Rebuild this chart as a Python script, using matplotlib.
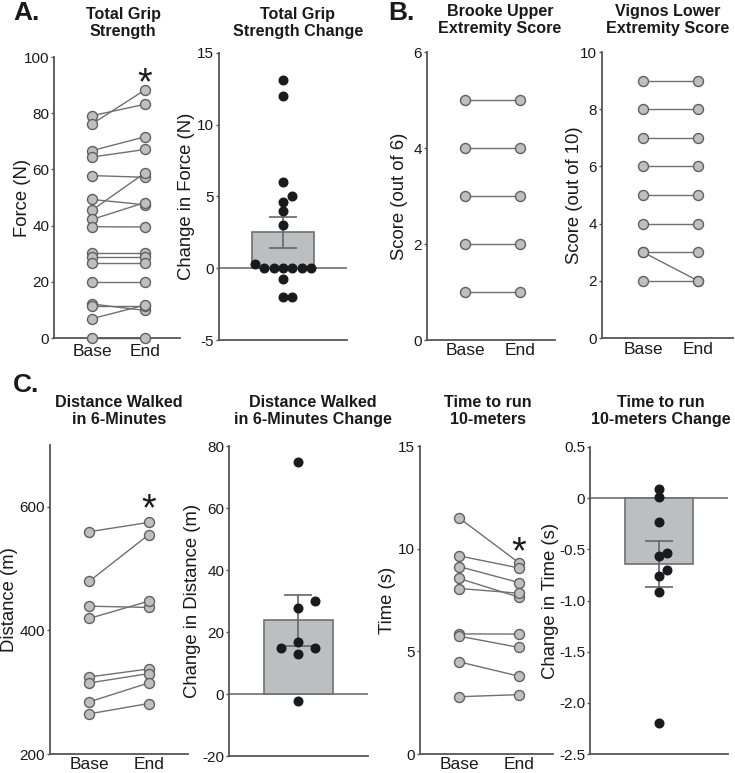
import numpy as np
import matplotlib
matplotlib.use("Agg")
import matplotlib.pyplot as plt

plt.rcParams['font.family'] = ['Liberation Sans', 'DejaVu Sans']

# ---------------- data ----------------
grip_base = [79.1, 76.2, 66.7, 64.4, 57.8, 49.3, 45.5, 42.2, 39.6, 30.2, 28.9, 26.8, 19.9, 12.1, 11.3, 6.9, 0.0]
grip_end = [83.2, 88.3, 71.6, 67.1, 57.2, 47.4, 58.8, 48.2, 39.5, 30.2, 28.9, 26.8, 19.9, 9.8, 11.3, 11.7, 0.0]
grip_change = [13.1, 12.0, 6.0, 5.0, 4.6, 4.0, 3.0, 0.3, 0, 0, 0, 0, 0, 0, -0.75, -2.0, -2.0]
grip_change_mean = 2.5
grip_change_sem = 1.09

brooke_base = [5, 4, 3, 2, 1]
brooke_end = [5, 4, 3, 2, 1]

vignos_base = [9, 8, 7, 6, 5, 4, 3, 3, 2]
vignos_end = [9, 8, 7, 6, 5, 4, 3, 2, 2]

dist_base = [559.7, 479.6, 439.2, 419.4, 324.7, 315.0, 284.4, 265.0]
dist_end = [574.7, 554.8, 437.1, 447.3, 337.6, 330.1, 315.0, 281.7]
dist_change = [75.0, 30.0, 27.8, 16.9, 14.9, 14.9, 12.9, -2.15]
dist_change_mean = 23.8
dist_change_sem = 8.2

time_base = [11.5, 9.65, 9.13, 8.55, 8.06, 5.85, 5.74, 4.49, 2.79]
time_end = [9.31, 9.06, 8.35, 7.64, 7.83, 5.84, 5.19, 3.79, 2.89]
time_change = [0.09, 0.01, -0.23, -0.54, -0.57, -0.70, -0.76, -0.92, -2.2]
time_change_mean = -0.64
time_change_sem = 0.225

pair_labels = ["Base", "End"]

# ---------------- style ----------------
W, H = 735, 773
fig = plt.figure(figsize=(W / 100, H / 100), dpi=100)

AX_COL = '#555555'
TXT_COL = '#1a1a1a'
LINE_COL = '#707070'
MFACE = '#bfbfbf'
MEDGE = '#606060'
BAR_FACE = '#bdbec2'
BAR_EDGE = '#707070'


def make_ax(L, R, T, B, xpad=4):
    ax = fig.add_axes([L / W, (H - B) / H, (R - L) / W, (B - T) / H])
    ax._px = (L, R)
    for s in ['top', 'right']:
        ax.spines[s].set_visible(False)
    for s in ['left', 'bottom']:
        ax.spines[s].set_color(AX_COL)
        ax.spines[s].set_linewidth(1.3)
    ax.tick_params(axis='y', colors=AX_COL, labelcolor=TXT_COL, labelsize=11,
                   length=2.5, width=1.0, pad=1.0)
    ax.tick_params(axis='x', length=0, labelcolor=TXT_COL, labelsize=12.5, pad=xpad)
    ax.patch.set_alpha(0)
    return ax


def set_ylab(ax, text, right_px, size=13.3):
    L, R = ax._px
    ax.set_ylabel(text, fontsize=size, color=TXT_COL)
    ax.yaxis.set_label_coords((right_px - L) / (R - L), 0.5)


def paired(ax, base, end, xlim, ylim, yticks, ylabel, lab_right, star=None):
    ax.set_xlim(*xlim)
    ax.set_ylim(*ylim)
    for b, e in zip(base, end):
        ax.plot([0, 1], [b, e], color=LINE_COL, lw=1.0, zorder=2, clip_on=False)
    ax.plot(np.zeros(len(base)), base, 'o', ms=7.2, mfc=MFACE, mec=MEDGE, mew=1.0,
            zorder=3, clip_on=False, ls='none')
    ax.plot(np.ones(len(end)), end, 'o', ms=7.2, mfc=MFACE, mec=MEDGE, mew=1.0,
            zorder=3, clip_on=False, ls='none')
    ax.set_xticks([0, 1])
    ax.set_xticklabels(pair_labels)
    ax.set_yticks(yticks)
    set_ylab(ax, ylabel, lab_right)
    if star is not None:
        ax.annotate('*', xy=(1, star), xytext=(0, -15), textcoords='offset points',
                    ha='center', va='baseline', fontsize=27, color=TXT_COL)


def swarm_offsets(ax, vals, step_px, diam_px=8.0):
    # beeswarm-style offsets in data units, computed in pixel space
    tr = ax.transData
    ypix = [tr.transform((0, v))[1] for v in vals]
    px_per_x = tr.transform((1, 0))[0] - tr.transform((0, 0))[0]
    order = np.argsort(vals, kind='stable')
    cands = [0]
    for j in range(1, 20):
        cands += [j, -j]
    placed = []
    offs = np.zeros(len(vals))
    for i in order:
        for c in cands:
            if all(not (abs(pc - c) < 1 and abs(py - ypix[i]) < diam_px) for pc, py in placed):
                break
        placed.append((c, ypix[i]))
        offs[i] = c * step_px / px_per_x
    return offs


def change(ax, vals, mean, sem, ylim, yticks, yticklabels, ylabel, lab_right, step_px):
    ax.set_xlim(-1, 1)
    ax.set_ylim(*ylim)
    ax.axhline(0, color=LINE_COL, lw=1.2, zorder=1)
    ax.bar([0], [mean], width=0.98, color=BAR_FACE, edgecolor=BAR_EDGE, lw=1.2, zorder=2)
    ax.errorbar([0], [mean], yerr=[sem], color='#666666', capsize=10, elinewidth=1.2,
                capthick=1.2, zorder=3, fmt='none')
    offs = swarm_offsets(ax, vals, step_px)
    ax.plot(offs, vals, 'o', ms=6.2, color='#1a1a1a', zorder=4, ls='none', clip_on=False)
    ax.set_xticks([])
    ax.set_yticks(yticks)
    ax.set_yticklabels(yticklabels)
    set_ylab(ax, ylabel, lab_right)


def title(xc, ytop, txt):
    fig.text(xc / W, 1 - ytop / H, txt, ha='center', va='top', fontsize=11.6,
             fontweight='bold', color=TXT_COL, linespacing=1.2)


def letter(x, ytop, txt):
    fig.text(x / W, 1 - ytop / H, txt, ha='left', va='top', fontsize=19,
             fontweight='bold', color=TXT_COL)


# ---------------- Panel A ----------------
axA1 = make_ax(54, 180, 57, 338)
paired(axA1, grip_base, grip_end, (-0.72, 1.66), (0, 100), [0, 20, 40, 60, 80, 100],
       'Force (N)', 31, star=94.3)

axA2 = make_ax(219, 347, 52.7, 340)
change(axA2, grip_change, grip_change_mean, grip_change_sem, (-5, 15), [-5, 0, 5, 10, 15],
       ['-5', '0', '5', '10', '15'], 'Change in Force (N)', 195, 9.3)

# ---------------- Panel B ----------------
axB1 = make_ax(427, 555, 52, 340, xpad=2.5)
paired(axB1, brooke_base, brooke_end, (-0.69, 1.636), (0, 6), [0, 2, 4, 6],
       'Score (out of 6)', 408)

axB2 = make_ax(602, 733, 52, 338, xpad=3)
paired(axB2, vignos_base, vignos_end, (-0.745, 1.635), (0, 10), [0, 2, 4, 6, 8, 10],
       'Score (out of 10)', 583)

# ---------------- Panel C ----------------
axC1 = make_ax(50, 188, 445, 754, xpad=2)
paired(axC1, dist_base, dist_end, (-0.663, 1.663), (200, 700), [200, 400, 600],
       'Distance (m)', 18, star=612)

axC2 = make_ax(229, 368, 446, 756)
change(axC2, dist_change, dist_change_mean, dist_change_sem, (-20, 80), [-20, 0, 20, 40, 60, 80],
       ['-20', '0', '20', '40', '60', '80'], 'Change in Distance (m)', 201, 17)

axC3 = make_ax(420, 553, 446, 754, xpad=2)
paired(axC3, time_base, time_end, (-0.65, 1.567), (0, 15), [0, 5, 10, 15],
       'Time (s)', 396, star=10.28)

axC4 = make_ax(590, 728, 447, 754)
change(axC4, time_change, time_change_mean, time_change_sem, (-2.5, 0.5),
       [-2.5, -2.0, -1.5, -1.0, -0.5, 0, 0.5],
       ['-2.5', '-2.0', '-1.5', '-1.0', '-0.5', '0', '0.5'], 'Change in Time (s)', 559, 8)

# ---------------- titles & letters ----------------
title(123, 7, 'Total Grip\nStrength')
title(298, 7, 'Total Grip\nStrength Change')
title(500, 4, 'Brooke Upper\nExtremity Score')
title(668, 4, 'Vignos Lower\nExtremity Score')
title(119, 395, 'Distance Walked\nin 6-Minutes')
title(313, 395, 'Distance Walked\nin 6-Minutes Change')
title(488, 395, 'Time to run\n10-meters')
title(661, 395, 'Time to run\n10-meters Change')

letter(13, 1, 'A.')
letter(388, 1, 'B.')
letter(13, 373, 'C.')

fig.savefig('out.png', dpi=100)
